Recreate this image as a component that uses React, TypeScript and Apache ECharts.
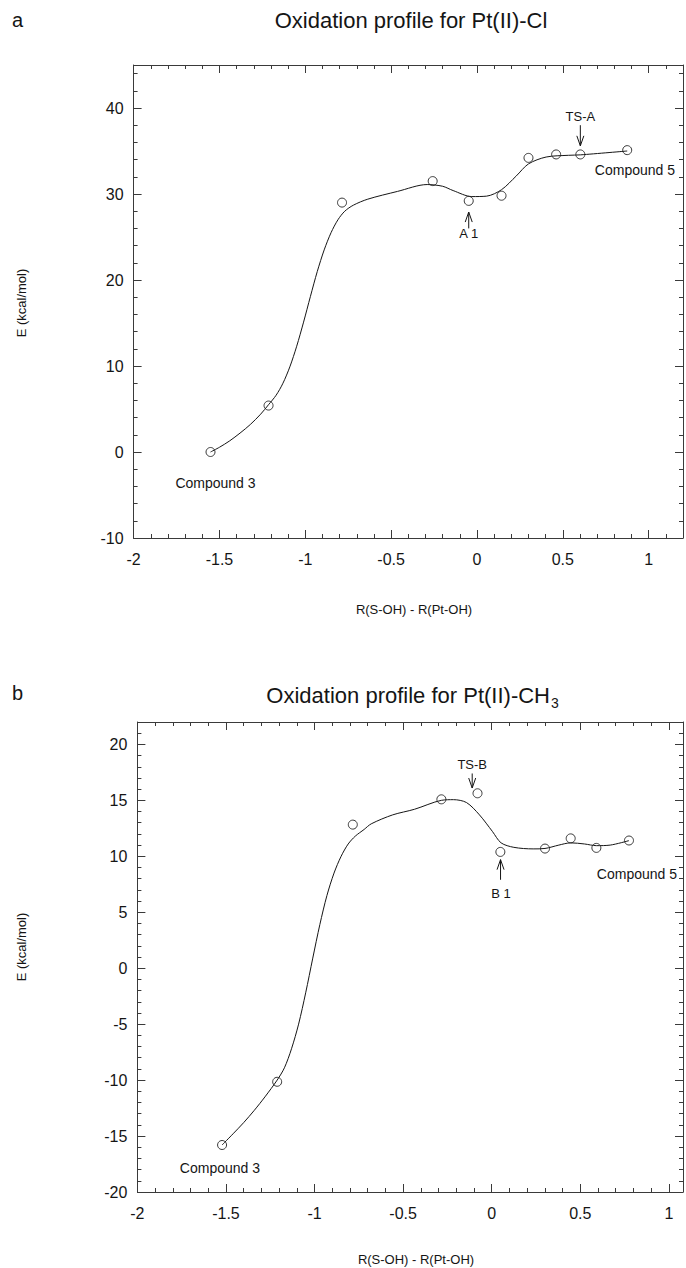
import React, { useEffect, useRef } from 'react';
import * as echarts from 'echarts';

const FONT = '"Liberation Sans", Arial, Helvetica, sans-serif';
const INK = '#151515';
const AX = '#3a3a3a';

// ---------- Panel a: Pt(II)-Cl ----------
const ptsAX = [-1.552, -1.214, -0.786, -0.258, -0.048, 0.143, 0.30, 0.461, 0.602, 0.875];
const ptsAY = [0, 5.4, 29.0, 31.5, 29.2, 29.8, 34.2, 34.6, 34.6, 35.1];
const curveAX = [-1.552, -1.50, -1.44, -1.38, -1.32, -1.26, -1.214, -1.17, -1.13, -1.09, -1.05, -1.01, -0.97, -0.93, -0.89, -0.85, -0.81, -0.77, -0.72, -0.636, -0.463, -0.29, -0.2, -0.139, -0.03, 0.056, 0.143, 0.229, 0.30, 0.403, 0.532, 0.602, 0.875];
const curveAY = [0, 0.55, 1.3, 2.2, 3.2, 4.4, 5.5, 6.6, 8.0, 9.9, 12.3, 15.1, 18.1, 21.0, 23.5, 25.5, 27.0, 28.0, 28.7, 29.4, 30.3, 31.1, 30.9, 30.4, 29.7, 29.75, 30.5, 32.1, 33.5, 34.3, 34.5, 34.55, 35.0];
const labelsA = ['TS-A', 'A 1', 'Compound 5', 'Compound 3'];
const labelsAX = [0.602, -0.048, 0.92, -1.523];
const labelsAY = [39.0, 25.35, 32.8, -3.6];
const arrowsAX = [0.602, -0.048];
const arrowsAFrom = [38.0, 26.0];
const arrowsATo = [35.6, 27.9];

// ---------- Panel b: Pt(II)-CH3 ----------
const ptsBX = [-1.522, -1.211, -0.784, -0.284, -0.08, 0.049, 0.301, 0.446, 0.591, 0.775];
const ptsBY = [-15.8, -10.15, 12.83, 15.09, 15.63, 10.39, 10.69, 11.6, 10.75, 11.41];
const curveBX = [-1.522, -1.46, -1.40, -1.34, -1.28, -1.211, -1.17, -1.13, -1.09, -1.05, -1.01, -0.97, -0.93, -0.89, -0.85, -0.81, -0.77, -0.72, -0.68, -0.559, -0.436, -0.284, -0.216, -0.142, -0.069, 0.005, 0.053, 0.125, 0.234, 0.301, 0.379, 0.446, 0.524, 0.591, 0.669, 0.775];
const curveBY = [-15.8, -14.8, -13.8, -12.7, -11.5, -10.0, -8.9, -7.2, -5.0, -2.2, 0.9, 3.9, 6.5, 8.5, 10.0, 11.1, 11.8, 12.4, 12.9, 13.7, 14.2, 15.0, 15.06, 14.8, 13.7, 12.2, 11.2, 10.8, 10.66, 10.7, 11.0, 11.2, 11.1, 10.95, 11.0, 11.4];
const labelsB = ['TS-B', 'B 1', 'Compound 5', 'Compound 3'];
const labelsBX = [-0.11, 0.052, 0.82, -1.534];
const labelsBY = [18.2, 6.7, 8.45, -17.84];
const arrowsBX = [-0.11, 0.05];
const arrowsBFrom = [17.4, 7.9];
const arrowsBTo = [16.1, 9.7];

// axis ranges / ticks
const xTicksMajor = 0.5;
const xTicksMinor = 0.1;
const rangeA = { xmin: -2, xmax: 1.2, ymin: -10, ymax: 45, yMajor: 10, yMinor: 2, xLabelMax: 1, yLabelMax: 40 };
const rangeB = { xmin: -2, xmax: 1.08, ymin: -20, ymax: 22, yMajor: 5, yMinor: 1, xLabelMax: 1, yLabelMax: 20 };

function fmt(step: number, maxLabel: number) {
  return (v: number) => {
    const r = v / step;
    if (Math.abs(r - Math.round(r)) > 1e-6) return '';
    if (v > maxLabel + 1e-6) return '';
    return String(Math.round(v * 10) / 10);
  };
}

function buildAxes(g: number, r: any) {
  const line = { show: true, onZero: false, lineStyle: { color: AX, width: 1 } };
  const noLine = { show: false, onZero: false };
  const lab = { show: true, fontSize: 16, fontFamily: FONT, color: INK };
  const tick = (len: number) => ({ show: true, inside: true, length: len, lineStyle: { color: AX, width: 1 } });
  const xs = [
    { gridIndex: g, type: 'value', min: r.xmin, max: r.xmax, interval: xTicksMajor, position: 'bottom', axisLine: line,
      axisTick: tick(8), axisLabel: { ...lab, margin: 13, formatter: fmt(xTicksMajor, r.xLabelMax) }, splitLine: { show: false } },
    { gridIndex: g, type: 'value', min: r.xmin, max: r.xmax, interval: xTicksMinor, position: 'bottom', axisLine: noLine,
      axisTick: tick(4), axisLabel: { show: false }, splitLine: { show: false } },
    { gridIndex: g, type: 'value', min: r.xmin, max: r.xmax, interval: xTicksMajor, position: 'top', axisLine: line,
      axisTick: tick(8), axisLabel: { show: false }, splitLine: { show: false } },
    { gridIndex: g, type: 'value', min: r.xmin, max: r.xmax, interval: xTicksMinor, position: 'top', axisLine: noLine,
      axisTick: tick(4), axisLabel: { show: false }, splitLine: { show: false } },
  ];
  const ys = [
    { gridIndex: g, type: 'value', min: r.ymin, max: r.ymax, interval: r.yMajor, position: 'left', axisLine: line,
      axisTick: tick(8), axisLabel: { ...lab, margin: 10, formatter: fmt(r.yMajor, r.yLabelMax) }, splitLine: { show: false } },
    { gridIndex: g, type: 'value', min: r.ymin, max: r.ymax, interval: r.yMinor, position: 'left', axisLine: noLine,
      axisTick: tick(4), axisLabel: { show: false }, splitLine: { show: false } },
    { gridIndex: g, type: 'value', min: r.ymin, max: r.ymax, interval: r.yMajor, position: 'right', axisLine: line,
      axisTick: tick(8), axisLabel: { show: false }, splitLine: { show: false } },
    { gridIndex: g, type: 'value', min: r.ymin, max: r.ymax, interval: r.yMinor, position: 'right', axisLine: noLine,
      axisTick: tick(4), axisLabel: { show: false }, splitLine: { show: false } },
  ];
  return { xs, ys };
}

function zip(a: number[], b: number[]) {
  return a.map((v, i) => [v, b[i]]);
}

function buildSeries(axisIdx: number, cx: number[], cy: number[], px: number[], py: number[],
  labels: string[], lx: number[], ly: number[], ax: number[], aFrom: number[], aTo: number[]) {
  return [
    {
      type: 'line', xAxisIndex: axisIdx, yAxisIndex: axisIdx, data: zip(cx, cy), smooth: 0.3,
      showSymbol: false, symbol: 'none', lineStyle: { color: INK, width: 1 }, z: 2, silent: true,
    },
    {
      type: 'scatter', xAxisIndex: axisIdx, yAxisIndex: axisIdx, data: zip(px, py), symbol: 'circle',
      symbolSize: 9, itemStyle: { color: 'rgba(255,255,255,0)', borderColor: '#222', borderWidth: 0.9, opacity: 1 },
      z: 3, silent: true,
    },
    {
      type: 'custom', coordinateSystem: 'cartesian2d', xAxisIndex: axisIdx, yAxisIndex: axisIdx,
      data: labels.map((_, i) => [lx[i], ly[i], i]), silent: true, z: 4,
      renderItem: (params: any, api: any) => {
        const p = api.coord([api.value(0), api.value(1)]);
        const t = labels[params.dataIndex];
        const size = t.indexOf('Compound') === 0 ? 14 : 13;
        return {
          type: 'text', x: p[0], y: p[1],
          style: { text: t, fontSize: size, fontFamily: FONT, fill: INK, align: 'center', verticalAlign: 'middle' },
        };
      },
    },
    {
      type: 'custom', coordinateSystem: 'cartesian2d', xAxisIndex: axisIdx, yAxisIndex: axisIdx,
      data: ax.map((x, i) => [x, aFrom[i], aTo[i]]), silent: true, z: 4,
      renderItem: (params: any, api: any) => {
        const p1 = api.coord([api.value(0), api.value(1)]);
        const p2 = api.coord([api.value(0), api.value(2)]);
        const dir = p2[1] > p1[1] ? 1 : -1;
        const st = { stroke: INK, lineWidth: 1, fill: null };
        return {
          type: 'group',
          children: [
            { type: 'line', shape: { x1: p1[0], y1: p1[1], x2: p2[0], y2: p2[1] }, style: st },
            { type: 'polyline', shape: { points: [[p2[0] - 3.5, p2[1] - dir * 10], [p2[0], p2[1]], [p2[0] + 3.5, p2[1] - dir * 10]] }, style: st },
          ],
        };
      },
    },
  ];
}

export default function App() {
  const ref = useRef<HTMLDivElement>(null);
  useEffect(() => {
    if (!ref.current) return;
    const chart = echarts.init(ref.current, undefined, { renderer: 'svg' });
    const a = buildAxes(0, rangeA);
    const b = buildAxes(1, rangeB);
    const txt = (text: string, x: number, y: number, size: number, align: string, extra: any = {}) => ({
      type: 'text', x, y, ...extra,
      style: { text, fontSize: size, fontFamily: FONT, fill: INK, align, verticalAlign: 'middle', textAlign: align, textVerticalAlign: 'middle' },
    });
    chart.setOption({
      animation: false,
      backgroundColor: '#ffffff',
      grid: [
        { left: 133.6, top: 65, width: 551.4, height: 473, containLabel: false },
        { left: 137.4, top: 722, width: 548, height: 470, containLabel: false },
      ],
      xAxis: [...a.xs, ...b.xs],
      yAxis: [...a.ys, ...b.ys],
      series: [
        ...buildSeries(0, curveAX, curveAY, ptsAX, ptsAY, labelsA, labelsAX, labelsAY, arrowsAX, arrowsAFrom, arrowsATo),
        ...buildSeries(4, curveBX, curveBY, ptsBX, ptsBY, labelsB, labelsBX, labelsBY, arrowsBX, arrowsBFrom, arrowsBTo),
      ],
      graphic: [
        txt('a', 17.5, 20, 20, 'center'),
        txt('Oxidation profile for Pt(II)-Cl', 411, 20, 22, 'center'),
        txt('E (kcal/mol)', 21, 303, 13, 'center', { rotation: Math.PI / 2 }),
        txt('R(S-OH) - R(Pt-OH)', 414, 609, 13, 'center'),
        txt('b', 17.5, 693, 20, 'center'),
        txt('Oxidation profile for Pt(II)-CH', 550, 695, 22, 'right'),
        txt('3', 551, 703, 14, 'left'),
        txt('E (kcal/mol)', 21, 947, 13, 'center', { rotation: Math.PI / 2 }),
        txt('R(S-OH) - R(Pt-OH)', 416, 1259, 13, 'center'),
      ],
    });
    return () => chart.dispose();
  }, []);
  return (
    <div
      ref={ref}
      style={{ position: 'fixed', left: 0, top: 0, width: 686, height: 1268, background: '#fff' }}
    />
  );
}
